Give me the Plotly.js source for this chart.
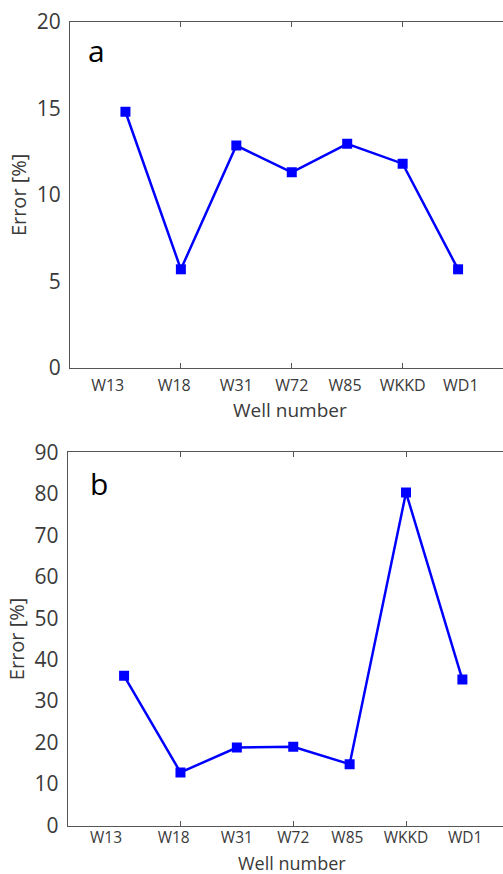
<!DOCTYPE html>
<html><head><meta charset="utf-8">
<script src="https://cdn.plot.ly/plotly-3.0.1.min.js"></script>
<style>html,body{margin:0;padding:0;background:#fff;}#c{width:503px;height:874px;}</style>
</head><body><div id="c"></div>
<script>
const wells = ["W13","W18","W31","W72","W85","WKKD","WD1"];
const wellIndex = [1,2,3,4,5,6,7];
const errorA = [14.8, 5.7, 12.85, 11.3, 12.95, 11.8, 5.7];
const errorB = [36.1, 12.8, 18.8, 19.0, 14.8, 80.3, 35.2];
const yTicksA = [0,5,10,15,20];
const yTicksB = [0,10,20,30,40,50,60,70,80,90];
const xTickMarks = [2,4,6];
const labelPosA = [0.68, 1.88, 3.0, 4.0, 4.96, 6.0, 7.05];
const labelPosB = [0.68, 1.88, 3.0, 4.0, 4.96, 6.0, 7.05];
const xTitle = 'Well number';
const yTitle = 'Error [%]';

const FONT = '"Open Sans", "Noto Sans", sans-serif';
const TXT = '#3a3a3a';
const AX = '#555555';

const line = {color:'#0000ff', width:2.5};
const marker = {symbol:'square', size:10, color:'#0000ff'};

const traces = [
  {x:wellIndex, y:errorA, xaxis:'x', yaxis:'y', mode:'lines+markers', line, marker, hoverinfo:'skip'},
  {x:wellIndex, y:errorB, xaxis:'x2', yaxis:'y2', mode:'lines+markers', line, marker, hoverinfo:'skip'},
  {x:[null], y:[null], xaxis:'x3', yaxis:'y', mode:'markers', hoverinfo:'skip'},
  {x:[null], y:[null], xaxis:'x4', yaxis:'y2', mode:'markers', hoverinfo:'skip'}
];

const baseX = {
  showgrid:false, zeroline:false, showline:true, linecolor:AX, linewidth:1,
  mirror:'ticks', ticks:'inside', ticklen:5, tickcolor:AX, showticklabels:false,
  tickmode:'array', tickvals:xTickMarks
};
const labX = (pos, so, fs) => ({
  showgrid:false, zeroline:false, showline:false, ticks:'',
  tickmode:'array', tickvals:pos, ticktext:wells, ticklabelstandoff:so,
  tickfont:{family:FONT, size:fs, color:TXT}
});
const baseY = (vals) => ({
  showgrid:false, zeroline:false, showline:true, linecolor:AX, linewidth:1,
  ticks:'', tickmode:'array', tickvals:vals, ticklabelstandoff:4,
  tickfont:{family:FONT, size:21, color:TXT},
  title:{text:yTitle, font:{family:FONT, size:20, color:TXT}, standoff:4}
});

const dA = [70/503, 1], dB = [67.7/503, 1];
const layout = {
  width:503, height:874, margin:{l:0,r:0,t:0,b:0},
  paper_bgcolor:'#fff', plot_bgcolor:'#fff', showlegend:false,
  xaxis: Object.assign({}, baseX, {domain:dA, range:[0,7.81], anchor:'y'}),
  xaxis3: Object.assign(labX(labelPosA, 6, 16), {overlaying:'x', anchor:'y', range:[0,7.81], side:'bottom'}),
  yaxis: Object.assign(baseY(yTicksA), {domain:[1-368/874, 1-21.7/874], range:[0,20], anchor:'x'}),
  xaxis2: Object.assign({}, baseX, {domain:dB, range:[0,7.72], anchor:'y2'}),
  xaxis4: Object.assign(labX(labelPosB, 1, 15.5), {overlaying:'x2', anchor:'y2', range:[0,7.72], side:'bottom'}),
  yaxis2: Object.assign(baseY(yTicksB), {domain:[1-825.5/874, 1-452.3/874], range:[0,90], anchor:'x2'}),
  annotations:[
    {text:'a', xref:'paper', yref:'paper', x:86/503, y:1-50/874, xanchor:'left', yanchor:'middle', showarrow:false, font:{family:FONT, size:30, color:'#000'}},
    {text:'b', xref:'paper', yref:'paper', x:88/503, y:1-483/874, xanchor:'left', yanchor:'middle', showarrow:false, font:{family:FONT, size:30, color:'#000'}},
    {text:xTitle, xref:'paper', yref:'paper', x:290/503, y:1-410/874, xanchor:'center', yanchor:'middle', showarrow:false, font:{family:FONT, size:19, color:TXT}},
    {text:xTitle, xref:'paper', yref:'paper', x:292/503, y:1-862.5/874, xanchor:'center', yanchor:'middle', showarrow:false, font:{family:FONT, size:18, color:TXT}}
  ]
};
Plotly.newPlot('c', traces, layout, {staticPlot:true, displayModeBar:false});
</script></body></html>
